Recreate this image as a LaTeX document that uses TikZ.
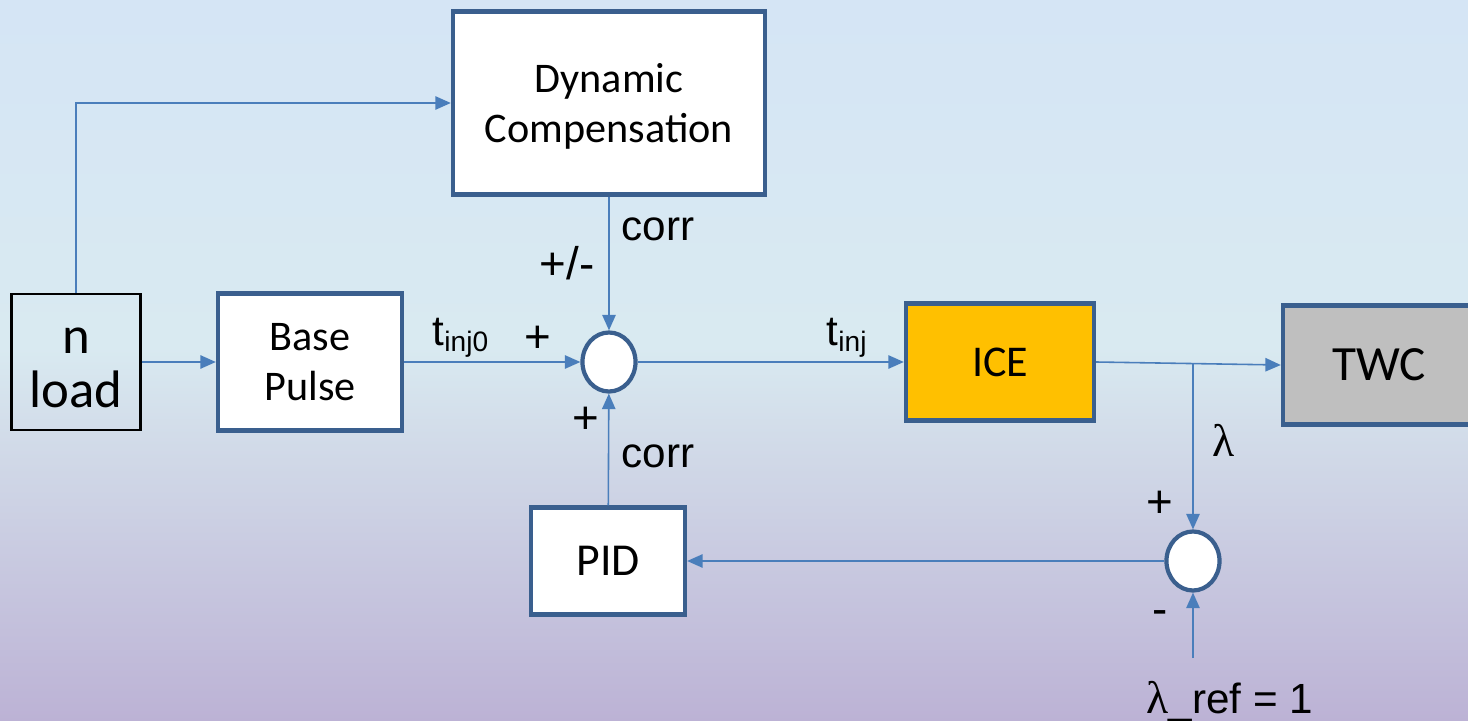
\documentclass[tikz,border=0pt]{standalone}
\usepackage{fontspec}
\setmainfont{Liberation Sans}
\newfontfamily\boxfont{Carlito}
\newfontfamily\greekfont{Liberation Serif}
\usetikzlibrary{arrows.meta, shapes.geometric}
\definecolor{cBgTop}{HTML}{D5E5F5}
\definecolor{cBgMid}{HTML}{D9EAF1}
\definecolor{cBgLow}{HTML}{D1DAE8}
\definecolor{cBgBot}{HTML}{BCB2D5}
\definecolor{cEdge}{HTML}{3A5F8E}
\definecolor{cLine}{HTML}{4A7EBB}
\definecolor{cICE}{HTML}{FFC000}
\definecolor{cTWC}{HTML}{BFBFBF}
\pgfdeclareverticalshading{bgfade}{100bp}{color(0bp)=(cBgBot); color(25bp)=(cBgBot);
    color(44bp)=(cBgLow); color(51bp)=(cBgMid); color(75bp)=(cBgTop); color(100bp)=(cBgTop)}
\newcommand{\lam}{{\greekfont λ}}
\tikzset{
    x=0.01cm, y=-0.01cm, font=\fontsize{12}{14}\selectfont,
    blk/.style={draw=cEdge, line width=1.2pt, fill=white, inner sep=0pt,
                align=center, font=\boxfont\fontsize{12}{14.2}\selectfont},
    inp/.style={draw=black, line width=0.6pt, inner sep=0pt, align=center,
                font=\boxfont\fontsize{15}{15.4}\selectfont},
    sumc/.style={ellipse, draw=cEdge, line width=1.2pt, fill=white,
                 inner sep=0pt, minimum width=0.53cm, minimum height=0.59cm},
    sig/.style={-{Triangle[length=4.4pt, width=3.8pt]}, draw=cLine,
                line width=0.45pt},
    lbl/.style={inner sep=0pt, font=\fontsize{12}{14}\selectfont},
    sgn/.style={inner sep=0pt, font=\fontsize{13}{14}\selectfont},
}

\begin{document}
\begin{tikzpicture}
    \useasboundingbox (0,0) rectangle (1468,721);
    \shade[shading=bgfade] (0,0) rectangle (1468,721);
    \clip (0,0) rectangle (1468,721);

    % blocks
    \node[inp, minimum width=1.29cm, minimum height=1.36cm] (nload) at (76,362) {\strut n\\load};
    \node[blk, minimum width=1.84cm, minimum height=1.37cm] (base) at (310,362) {Base\\Pulse};
    \node[blk, minimum width=3.12cm, minimum height=1.83cm] (dyn) at (609,103) {\strut Dynamic\\Compensation};
    \node[sumc] (sumA) at (609,362) {};
    \node[blk, fill=cICE, minimum width=1.88cm, minimum height=1.17cm,
          font=\boxfont\fontsize{12.5}{14}\selectfont] (ice) at (1000,362) {ICE};
    \node[blk, fill=cTWC, minimum width=1.92cm, minimum height=1.19cm,
          font=\boxfont\fontsize{14}{14}\selectfont] (twc) at (1379,365) {TWC};
    \node[blk, minimum width=1.54cm, minimum height=1.07cm,
          font=\boxfont\fontsize{13}{14}\selectfont] (pid) at (608,561) {PID};
    \node[sumc] (sumB) at (1193,561) {};

    \coordinate (tap) at (1193,364);
    \coordinate (lref) at (1193,658);

    % signals
    \draw[sig] (nload.north) |- (dyn.west);
    \draw[sig] (nload.east) -- (nload.east -| base.west);
    \draw[sig] (base) -- (sumA);
    \draw[sig] (dyn) -- (sumA);
    \draw[sig] (pid) -- (sumA);
    \draw[sig] (sumA) -- (ice);
    \draw[sig] (ice.east) -- (twc.west);
    \draw[sig] (tap) -- (sumB);
    \draw[sig] (sumB) -- (pid);
    \draw[sig] (lref) -- (sumB);

    % labels
    \node[lbl, anchor=base west] (corrA) at (621,240) {corr};
    \node[sgn, anchor=base west] (pmA) at (539,280) {+/-};
    \node[lbl, anchor=base west] (tinjz) at (432,345) {t\textsubscript{inj0}};
    \node[sgn] (plA) at (538,339) {+};
    \node[sgn] (plB) at (586,420) {+};
    \node[lbl, anchor=base west] (corrB) at (621,468) {corr};
    \node[lbl, anchor=base west] (tinj) at (826,345) {t\textsubscript{inj}};
    \node[lbl, anchor=base west, font=\fontsize{13}{14}\selectfont] (lam) at (1212,456) {\lam};
    \node[sgn] (plC) at (1160,504) {+};
    \node[sgn] (mnC) at (1160,618) {-};
    \node[lbl, anchor=base west] (lamref) at (1146,713) {{\fontsize{13}{14}\selectfont\lam}\_ref = 1};
\end{tikzpicture}
\end{document}
